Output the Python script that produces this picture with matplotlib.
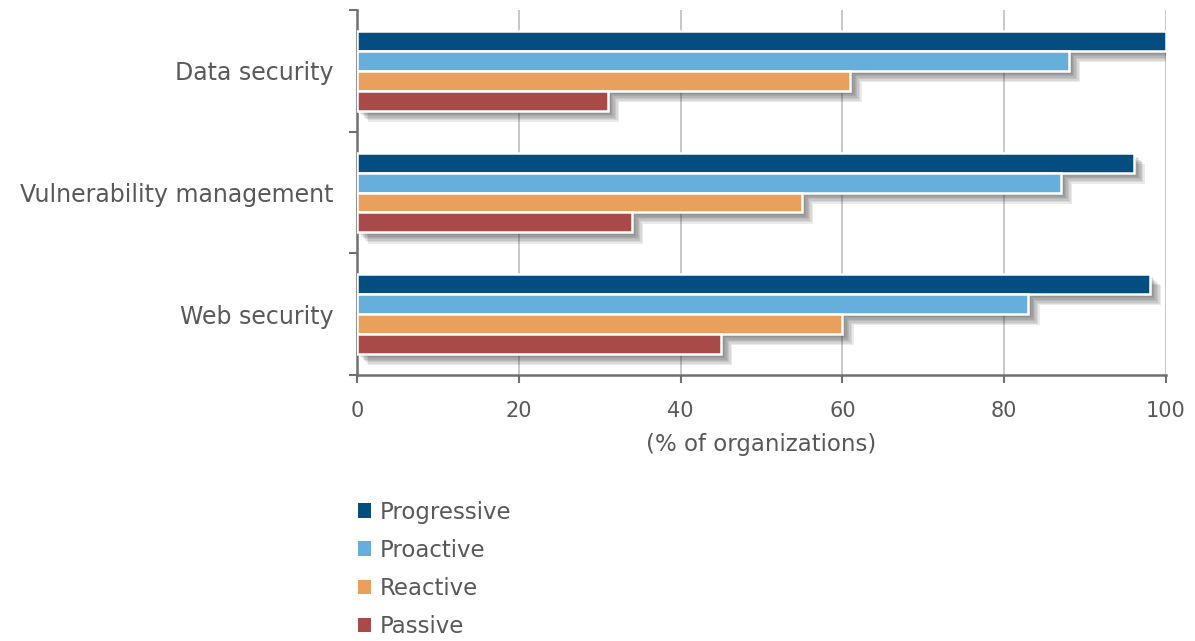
"""Security practice adoption by maturity level (horizontal grouped bars)."""
import matplotlib.pyplot as plt
import matplotlib.patheffects as pe
from matplotlib.patches import Patch
import numpy as np

categories = ["Web security", "Vulnerability management", "Data security"]
series = ["Progressive", "Proactive", "Reactive", "Passive"]
progressive = [98, 96, 100]
proactive = [83, 87, 88]
reactive = [60, 55, 61]
passive = [45, 34, 31]
colors = ["#034d81", "#66afdc", "#e9a05c", "#a84a48"]

values = [progressive, proactive, reactive, passive]
offsets = [0.246, 0.082, -0.082, -0.246]
bar_h = 0.164
text_col = "#595959"

fig = plt.figure(figsize=(11.95, 6.41), dpi=100)
ax = fig.add_axes([357 / 1195, 1 - 375 / 641, (1166 - 357) / 1195, 365 / 641])

y = np.arange(len(categories))
# soft drop shadow: several faint offset copies
shadow = [pe.SimplePatchShadow(offset=(d, -d), shadow_rgbFace="#404040", alpha=0.11)
          for d in (8, 7, 6, 5, 4, 3, 2)]
shadow.append(pe.Normal())
for vals, off, col in zip(values, offsets, colors):
    bars = ax.barh(y + off, vals, height=bar_h, color=col,
                   edgecolor="white", linewidth=1.8, zorder=3)
    for b in bars:
        b.set_path_effects(shadow)

ax.set_xlim(0, 100)
ax.set_ylim(-0.5, len(categories) - 0.5)
ax.set_xticks(np.arange(0, 101, 20))
ax.set_yticks(y)
ax.set_yticklabels(categories)
ax.set_yticks(np.arange(-0.5, len(categories), 1), minor=True)
ax.tick_params(axis="y", which="major", length=0, pad=17, labelsize=17, labelcolor=text_col)
ax.tick_params(axis="y", which="minor", length=6, width=1.5, color="#707070", direction="out")
ax.tick_params(axis="x", length=6, width=1.5, color="#707070", labelsize=15,
               labelcolor=text_col, pad=13)
ax.grid(axis="x", color="#bfbfbf", linewidth=1.2, zorder=0)
ax.set_axisbelow(True)
for s in ["top", "right"]:
    ax.spines[s].set_visible(False)
for s in ["left", "bottom"]:
    ax.spines[s].set_color("#707070")
    ax.spines[s].set_linewidth(1.8)
ax.set_xlabel("(% of organizations)", fontsize=16.5, color=text_col, labelpad=8)

handles = [Patch(facecolor=c, edgecolor="none", label=s) for s, c in zip(series, colors)]
fig.legend(handles=handles, loc="upper left", bbox_to_anchor=(337 / 1195, 1 - 480 / 641),
           frameon=False, fontsize=16.5, labelcolor=text_col, handlelength=0.6,
           handleheight=0.6, handletextpad=0.35, labelspacing=0.66)

fig.savefig("out.png", dpi=100)
